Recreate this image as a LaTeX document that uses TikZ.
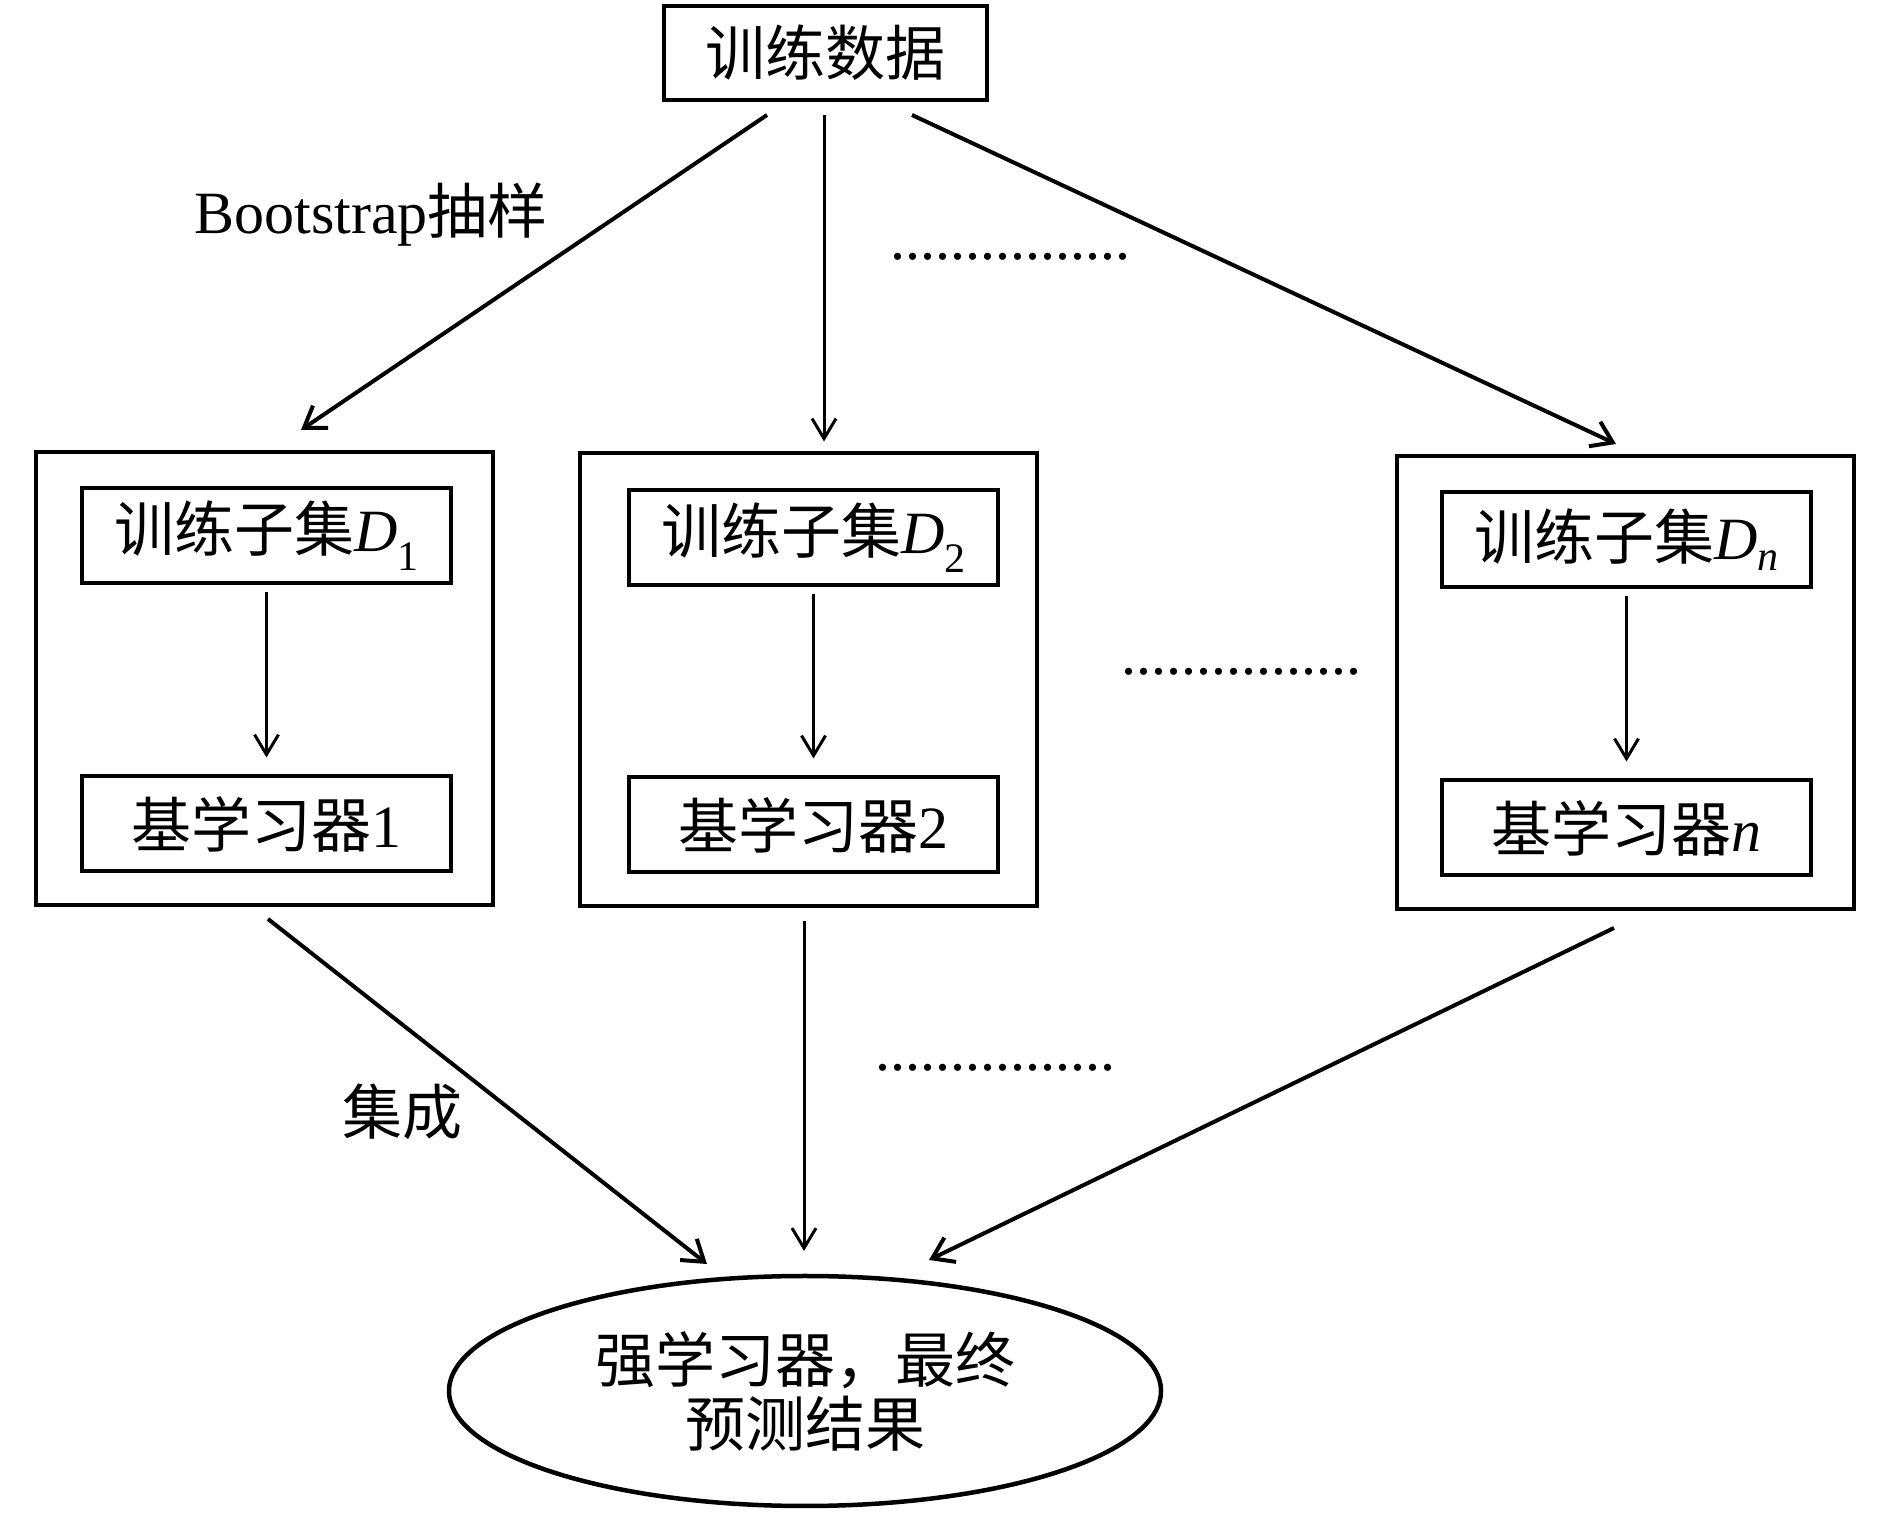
\documentclass[tikz,border=0pt]{standalone}
\usepackage{fontspec}
\setmainfont{Liberation Serif}
\newfontfamily\cjk{Noto Sans CJK SC}
\usetikzlibrary{arrows.meta,shapes.geometric}
\begin{document}
\begin{tikzpicture}[x=1pt,y=1pt,
  font=\fontsize{60}{64}\selectfont,
  topbox/.style={draw,line width=4pt,minimum width=323pt,minimum height=94pt,inner sep=0pt},
  outerbox/.style={draw,line width=4pt,minimum width=457pt,minimum height=453pt,inner sep=0pt},
  innerbox/.style={draw,line width=4pt,minimum width=369pt,minimum height=95pt,inner sep=0pt},
  arr/.style={-{Straight Barb[length=20pt,width=27pt]},line width=4pt},
  thinarr/.style={-{Straight Barb[length=20pt,width=24pt]},line width=3pt},
  dotrow/.style={inner sep=0pt},
  lbl/.style={inner sep=0pt}]
\useasboundingbox (0,0) rectangle (1891,1513);

% top
\node[topbox] (top) at (825.5,1460) {{\cjk 训练数据}};

% outer boxes
\node[outerbox] (B1) at (264.5,834.5) {};
\node[outerbox] (B2) at (808.5,833) {};
\node[outerbox] (Bn) at (1625.5,830.5) {};

% inner boxes
\node[innerbox] (T1) at (266.5,977) {{\cjk 训练子集}\textit{D}\textsubscript{1}};
\node[innerbox] (T2) at (813.5,975.5) {{\cjk 训练子集}\textit{D}\textsubscript{2}};
\node[innerbox] (Tn) at (1626.5,973) {{\cjk 训练子集}\textit{D}\textsubscript{\textit{n}}};
\node[innerbox] (L1) at (266.5,689) {{\cjk 基学习器}1};
\node[innerbox] (L2) at (813.5,688) {{\cjk 基学习器}2};
\node[innerbox] (Ln) at (1626.5,685) {{\cjk 基学习器}\textit{n}};

% ellipse
\node[draw,ellipse,line width=4.5pt,minimum width=712pt,minimum height=230pt,inner sep=0pt,align=center] (E) at (805,122)
  {{\cjk 强学习器，最终}\\{\cjk 预测结果}};

% arrows from top
\draw[arr] ([xshift=-58.5pt,yshift=-13pt]top.south) -- ([xshift=36.5pt,yshift=20pt]B1.north);
\draw[thinarr] ([xshift=-1.5pt,yshift=-13pt]top.south) -- ([xshift=15.5pt,yshift=10pt]B2.north);
\draw[arr] ([xshift=86.5pt,yshift=-13pt]top.south) -- ([xshift=-9.5pt,yshift=10pt]Bn.north);

% inner arrows
\draw[thinarr] ([yshift=-7pt]T1.south) -- ([yshift=17pt]L1.north);
\draw[thinarr] ([yshift=-7pt]T2.south) -- ([yshift=17pt]L2.north);
\draw[thinarr] ([yshift=-7pt]Tn.south) -- ([yshift=17pt]Ln.north);

% arrows to ellipse
\draw[arr] ([xshift=3.5pt,yshift=-12pt]B1.south) -- ([xshift=-98pt,yshift=127pt]E.center);
\draw[thinarr] ([xshift=-4.5pt,yshift=-13pt]B2.south) -- ([xshift=-1pt,yshift=140pt]E.center);
\draw[arr] ([xshift=-11.5pt,yshift=-17pt]Bn.south) -- ([xshift=124pt,yshift=131pt]E.center);

% labels
\node[lbl] (boot) at (371,1298) {Bootstrap{\cjk 抽样}};
\node[lbl] (jc) at (402,401) {{\cjk 集成}};

% dots
\node[dotrow] (d1) at (1010,1256) {................};
\node[dotrow] (d2) at (1241,841) {................};
\node[dotrow] (d3) at (995,445) {................};
\end{tikzpicture}
\end{document}
